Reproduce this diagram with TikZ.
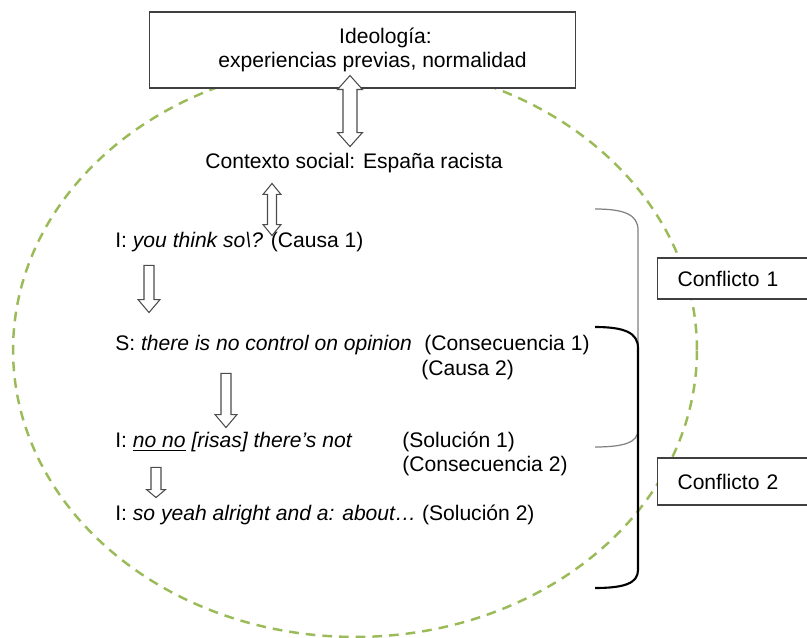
\documentclass[tikz,border=0pt]{standalone}
\usepackage{fontspec}
\setmainfont{Liberation Sans}
\usetikzlibrary{arrows.meta,calc}
\definecolor{ringgreen}{HTML}{9BBB59}
\definecolor{frameline}{HTML}{404040}

\begin{document}
\begin{tikzpicture}[x=0.02cm, y=-0.02cm,
  txt/.style={anchor=west, inner sep=0pt, text height=9pt, text depth=2.5pt, font=\fontsize{12}{13.7}\selectfont},
  frame/.style={draw=frameline, fill=white, line width=0.6pt, font=\fontsize{12}{13.7}\selectfont},
  blkdown/.style n args={3}{draw=black!70, fill=white, line width=0.6pt, to path={let \p1=(\tikztostart), \p2=(\tikztotarget) in
    (\x1-#1,\y1) -- (\x1-#1,\y2+#3) -- (\x1-#2,\y2+#3) -- (\x1,\y2) -- (\x1+#2,\y2+#3) -- (\x1+#1,\y2+#3) -- (\x1+#1,\y1) -- cycle}},
  blkboth/.style n args={3}{draw=black!70, fill=white, line width=0.6pt, to path={let \p1=(\tikztostart), \p2=(\tikztotarget) in
    (\x1-#1,\y1-#3) -- (\x1-#2,\y1-#3) -- (\x1,\y1) -- (\x1+#2,\y1-#3) -- (\x1+#1,\y1-#3) -- (\x1+#1,\y2+#3) -- (\x1+#2,\y2+#3) -- (\x1,\y2) -- (\x1-#2,\y2+#3) -- (\x1-#1,\y2+#3) -- cycle}},
]
  \useasboundingbox (0,0) rectangle (807,638);
  \clip (0,0) rectangle (807,638);

  \draw[ringgreen, line width=1.4pt, dash pattern=on 5.5pt off 4pt] (355,350) ellipse [x radius=6.84cm, y radius=5.74cm];

  \node[frame, minimum width=8.54cm, minimum height=1.52cm, align=center] (ideo) at (362.5,50) {\hspace*{0.92cm}Ideología:\\\hspace*{0.4cm}experiencias previas, normalidad};
  \node[txt] (ctx) at (205,163) {Contexto social: España racista};
  \node[txt] (i1) at (115,242) {I: \textit{you think so\textbackslash?} (Causa 1)};
  \node[txt] (s1) at (115,345) {S: \textit{there is no control on opinion}};
  \node[txt] (cons1) at (424,345) {(Consecuencia 1)};
  \node[txt] (causa2) at (421,370) {(Causa 2)};
  \node[txt] (i2) at (115,442) {I: \textit{\underline{no no} [risas] there’s not}};
  \node[txt] (sol1) at (402,442) {(Solución 1)};
  \node[txt] (cons2) at (402,466) {(Consecuencia 2)};
  \node[txt] (i3) at (115,515) {I: \textit{so yeah alright and a: about…} (Solución 2)};

  \node[frame, anchor=west, minimum height=0.82cm, text width=3cm, inner xsep=0.4cm] (conf1) at (657,278.5) {Conflicto 1};
  \node[frame, anchor=west, minimum height=0.94cm, text width=3cm, inner xsep=0.4cm] (conf2) at (657,481.5) {Conflicto 2};

  \draw[gray, line width=0.7pt] (595,209) .. controls (625,209) and (638,215) .. (638,230) -- (638,430) .. controls (638,442) and (625,447) .. (595,447);
  \draw[black, line width=1.2pt] (595,327) .. controls (625,327) and (638,333) .. (638,348) -- (638,570) .. controls (638,583) and (625,588) .. (595,588);

  \draw[blkboth={0.14cm}{0.25cm}{0.28cm}] ([shift={(-12.5,-13)}]ideo.south) to ([shift={(0,-6)}]ctx.north);
  \draw[blkboth={0.09cm}{0.18cm}{0.22cm}] ([shift={(67,10)}]ctx.south west) to ([shift={(0,4)}]i1.north);
  \draw[blkdown={0.1cm}{0.22cm}{0.26cm}] ([shift={(34,13)}]i1.south west) to ([shift={(0,-22)}]s1.north);
  \draw[blkdown={0.1cm}{0.22cm}{0.26cm}] ([shift={(111,18)}]s1.south west) to ([shift={(0,-4)}]i2.north);
  \draw[blkdown={0.1cm}{0.19cm}{0.16cm}] ([shift={(41,15)}]i2.south west) to ([shift={(0,-7)}]i3.north);
\end{tikzpicture}
\end{document}
